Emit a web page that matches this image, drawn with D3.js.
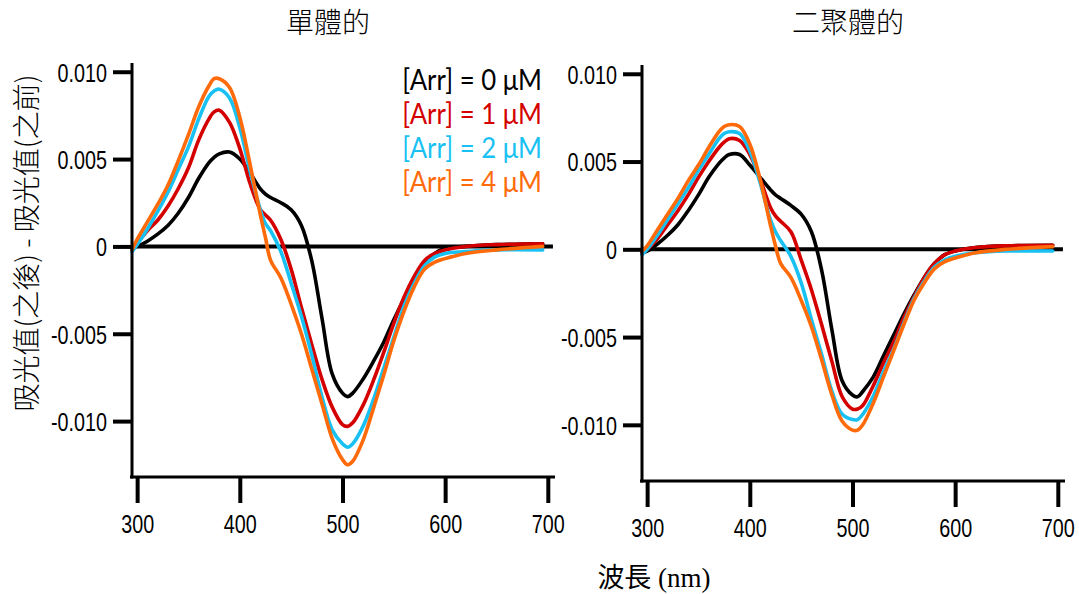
<!DOCTYPE html>
<html>
<head>
<meta charset="utf-8">
<script src="https://cdn.jsdelivr.net/npm/d3@7"></script>
<style>
  html, body { margin: 0; padding: 0; background: #fff; }
  svg { display: block; }
  .tick-label { font-family: "Liberation Sans", "Arimo", sans-serif; font-size: 26px; fill: #000; }
  .legend { font-family: "Lato", "Open Sans", sans-serif; font-size: 28px; }
  .title { font-family: "Noto Sans CJK TC", sans-serif; font-size: 28px; font-weight: 300; fill: #000; }
  .axis-title { font-family: "Liberation Serif", "Noto Sans CJK TC", serif; font-size: 27px; fill: #000; }
</style>
</head>
<body>
<svg id="chart" width="1079" height="594"></svg>
<script>
// Wavelength grid (nm) shared by every difference spectrum
const wavelengths = [295, 300, 310, 320, 330, 340, 350, 360, 370, 375, 380, 390, 400, 410, 420, 425, 430, 440, 450, 460, 470, 480, 490, 500, 505, 510, 520, 530, 540, 550, 560, 570, 580, 590, 600, 620, 650, 695];

// Monomer: absorbance(after) - absorbance(before)
const monomerArr0 = [-0.0001, 0.0000, 0.0003, 0.0007, 0.0012, 0.0019, 0.0028, 0.0039, 0.0048, 0.0051, 0.0053, 0.0054, 0.0050, 0.0042, 0.0033, 0.0030, 0.0028, 0.0025, 0.0021, 0.0012, -0.0008, -0.0041, -0.0073, -0.0084, -0.0086, -0.0084, -0.0076, -0.0066, -0.0055, -0.0042, -0.0030, -0.0019, -0.0010, -0.0004, -0.0001, 0.0000, 0.0001, 0.00015];
const monomerArr1 = [-0.0001, 0.0002, 0.0009, 0.0015, 0.0023, 0.0033, 0.0045, 0.0061, 0.0073, 0.0077, 0.0078, 0.0071, 0.0056, 0.0036, 0.0021, 0.0018, 0.0015, 0.0004, -0.0013, -0.0035, -0.0056, -0.0076, -0.0092, -0.0102, -0.0103, -0.0101, -0.0091, -0.0077, -0.0061, -0.0044, -0.0029, -0.0017, -0.0008, -0.0004, -0.0002, 0.0000, 0.0001, 0.00015];
const monomerArr2 = [-0.0003, 0.0001, 0.0010, 0.0020, 0.0031, 0.0044, 0.0057, 0.0073, 0.0086, 0.0089, 0.0090, 0.0085, 0.0068, 0.0043, 0.0021, 0.0013, 0.0009, -0.0003, -0.0021, -0.0040, -0.0062, -0.0086, -0.0105, -0.0113, -0.0115, -0.0113, -0.0103, -0.0088, -0.0070, -0.0052, -0.0034, -0.0021, -0.0011, -0.0006, -0.0004, -0.0003, -0.0002, -0.0002];
const monomerArr4 = [-0.0002, 0.0004, 0.0014, 0.0024, 0.0035, 0.0049, 0.0064, 0.0080, 0.0092, 0.0096, 0.0096, 0.0091, 0.0074, 0.0047, 0.0018, 0.0005, -0.0008, -0.0018, -0.0033, -0.0050, -0.0070, -0.0090, -0.0110, -0.0122, -0.0125, -0.0123, -0.0111, -0.0093, -0.0074, -0.0054, -0.0037, -0.0023, -0.0013, -0.0009, -0.0007, -0.0004, -0.0002, 0.0000];

// Dimer: absorbance(after) - absorbance(before)
const dimerArr0 = [-0.0002, -0.0001, 0.0003, 0.0008, 0.0014, 0.0022, 0.0031, 0.0041, 0.0049, 0.0052, 0.0054, 0.0054, 0.0048, 0.0041, 0.0034, 0.0031, 0.0029, 0.0025, 0.0020, 0.0010, -0.0012, -0.0046, -0.0075, -0.0083, -0.0084, -0.0081, -0.0073, -0.0061, -0.0049, -0.0037, -0.0026, -0.0016, -0.0008, -0.0003, -0.0001, 0.0001, 0.0002, 0.00023];
const dimerArr1 = [-0.0002, 0.0000, 0.0006, 0.0014, 0.0022, 0.0031, 0.0041, 0.0050, 0.0058, 0.0061, 0.0063, 0.0062, 0.0054, 0.0040, 0.0024, 0.0019, 0.0016, 0.0010, -0.0006, -0.0023, -0.0043, -0.0064, -0.0084, -0.0091, -0.0091, -0.0089, -0.0078, -0.0065, -0.0053, -0.0039, -0.0027, -0.0016, -0.0008, -0.0003, -0.0001, 0.0001, 0.0002, 0.00023];
const dimerArr2 = [-0.0003, 0.0000, 0.0008, 0.0017, 0.0026, 0.0035, 0.0045, 0.0054, 0.0063, 0.0066, 0.0067, 0.0066, 0.0056, 0.0038, 0.0017, 0.0010, 0.0005, -0.0004, -0.0019, -0.0040, -0.0060, -0.0081, -0.0094, -0.0097, -0.0097, -0.0094, -0.0084, -0.0070, -0.0057, -0.0042, -0.0028, -0.0018, -0.0010, -0.0006, -0.0004, -0.0002, -0.0001, -0.0001];
const dimerArr4 = [-0.0001, 0.0002, 0.0011, 0.0020, 0.0029, 0.0039, 0.0048, 0.0058, 0.0067, 0.0070, 0.0071, 0.0070, 0.0060, 0.0040, 0.0014, 0.0002, -0.0008, -0.0016, -0.0029, -0.0044, -0.0063, -0.0083, -0.0098, -0.0103, -0.0103, -0.0100, -0.0088, -0.0073, -0.0058, -0.0043, -0.0029, -0.0019, -0.0011, -0.0007, -0.0005, -0.0002, 0.0000, 0.00015];

const seriesLabels = ["[Arr] = 0 μM", "[Arr] = 1 μM", "[Arr] = 2 μM", "[Arr] = 4 μM"];
const seriesColors = ["#000000", "#d40000", "#19c1f3", "#ff6a0a"];

const xTicks = [300, 400, 500, 600, 700];
const yTicks = [0.010, 0.005, 0, -0.005, -0.010];
const yTickLabels = ["0.010", "0.005", "0", "-0.005", "-0.010"];

const panelTitles = ["單體的", "二聚體的"];
const xAxisTitle = "波長 (nm)";
const yAxisTitle = "吸光值(之後) - 吸光值(之前)";

const xDomain = [295, 707];
const yDomain = [-0.0132, 0.0105];

// narrow digits for the tick labels
const tickSqueeze = 0.76;
const legendSqueeze = 0.92;

const panels = [
  { title: panelTitles[0], series: [monomerArr0, monomerArr1, monomerArr2, monomerArr4],
    xRange: [132, 555], yRange: [477, 63], titleX: 328, legend: true },
  { title: panelTitles[1], series: [dimerArr0, dimerArr1, dimerArr2, dimerArr4],
    xRange: [642, 1065], yRange: [481, 65], titleX: 848, legend: false }
];

const svg = d3.select("#chart");

panels.forEach(p => {
  const x = d3.scaleLinear().domain(xDomain).range(p.xRange);
  const y = d3.scaleLinear().domain(yDomain).range(p.yRange);
  const g = svg.append("g");

  // zero reference line
  g.append("line")
    .attr("x1", x(xDomain[0])).attr("x2", x(705))
    .attr("y1", y(0)).attr("y2", y(0))
    .attr("stroke", "#000").attr("stroke-width", 4);

  // spectra
  const line = d3.line()
    .x((d, i) => x(wavelengths[i]))
    .y(d => y(d))
    .curve(d3.curveCatmullRom.alpha(0.5));

  p.series.forEach((vals, k) => {
    g.append("path")
      .datum(vals)
      .attr("d", line)
      .attr("fill", "none")
      .attr("stroke", seriesColors[k])
      .attr("stroke-width", 3.6)
      .attr("stroke-linejoin", "round")
      .attr("stroke-linecap", "round");
  });

  // y axis
  const yAxis = d3.axisLeft(y).tickValues(yTicks).tickSize(19).tickPadding(6)
    .tickFormat((d, i) => yTickLabels[i]);
  const ya = g.append("g").attr("transform", `translate(${x(xDomain[0])},0)`).call(yAxis);
  ya.select(".domain").remove();
  ya.selectAll(".tick line").attr("stroke", "#000").attr("stroke-width", 4);
  ya.selectAll(".tick text")
    .attr("class", "tick-label")
    .attr("x", -25 / tickSqueeze)
    .attr("dy", "0.36em")
    .attr("transform", `scale(${tickSqueeze},1)`);
  g.append("line")
    .attr("x1", x(xDomain[0])).attr("x2", x(xDomain[0]))
    .attr("y1", y(yDomain[1])).attr("y2", y(yDomain[0]) + 1.5)
    .attr("stroke", "#000").attr("stroke-width", 3);

  // x axis
  const xAxis = d3.axisBottom(x).tickValues(xTicks).tickSize(26).tickPadding(12)
    .tickFormat(d3.format("d"));
  const xa = g.append("g").attr("transform", `translate(0,${y(yDomain[0])})`).call(xAxis);
  xa.select(".domain").remove();
  xa.selectAll(".tick line").attr("stroke", "#000").attr("stroke-width", 4);
  xa.selectAll(".tick text")
    .attr("class", "tick-label")
    .attr("transform", `scale(${tickSqueeze},1)`);
  g.append("line")
    .attr("x1", x(xDomain[0]) - 2).attr("x2", x(xDomain[1]))
    .attr("y1", y(yDomain[0])).attr("y2", y(yDomain[0]))
    .attr("stroke", "#000").attr("stroke-width", 3);

  // panel title
  svg.append("text").attr("class", "title")
    .attr("x", p.titleX).attr("y", 21)
    .attr("text-anchor", "middle").attr("dominant-baseline", "central")
    .text(p.title);

  // legend
  if (p.legend) {
    seriesLabels.forEach((lab, k) => {
      svg.append("text").attr("class", "legend")
        .attr("transform", `translate(542,${90 + k * 34}) scale(${legendSqueeze},1)`)
        .attr("text-anchor", "end")
        .attr("fill", seriesColors[k])
        .text(lab);
    });
  }
});

// shared axis titles
svg.append("text").attr("class", "axis-title")
  .attr("x", 654).attr("y", 578)
  .attr("text-anchor", "middle").attr("dominant-baseline", "central")
  .text(xAxisTitle);

svg.append("text")
  .attr("class", "axis-title")
  .style("font-family", "\"Noto Sans CJK TC\", sans-serif")
  .style("font-weight", 300)
  .style("font-size", "28px")
  .attr("transform", "translate(25,243) rotate(-90)")
  .attr("text-anchor", "middle").attr("dominant-baseline", "central")
  .text(yAxisTitle);
</script>
</body>
</html>
